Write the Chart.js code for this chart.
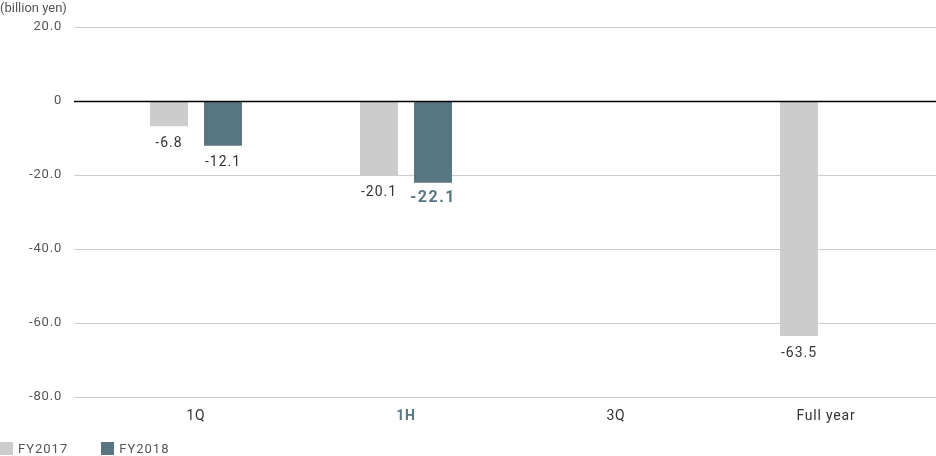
<!DOCTYPE html>
<html>
<head>
<meta charset="utf-8">
<script src="https://cdn.jsdelivr.net/npm/chart.js@4/dist/chart.umd.min.js"></script>
<style>
  html, body { margin: 0; padding: 0; background: #fff; }
  #wrap { position: relative; width: 936px; height: 456px; overflow: hidden; }
  #unit { position: absolute; left: 0; top: 0; font: 13px Roboto, sans-serif; color: #555; }
  #legend { position: absolute; left: 0; top: 441px; font: 13px Roboto, sans-serif; color: #555; letter-spacing: 1px; display: flex; }
  .item { display: flex; align-items: center; margin-right: 33px; }
  .box { width: 13px; height: 13px; margin-right: 5px; }
</style>
</head>
<body>
<div id="wrap">
  <canvas id="c" width="936" height="456"></canvas>
  <div id="unit">(billion yen)</div>
  <div id="legend"></div>
</div>
<script>
const categories = ["1Q", "1H", "3Q", "Full year"];
const seriesNames = ["FY2017", "FY2018"];
const fy2017 = [-6.8, -20.1, null, -63.5];
const fy2018 = [-12.1, -22.1, null, null];
const yTicks = [20, 0, -20, -40, -60, -80];
const colors = ["#cccccc", "#587682"];
const highlight = { dataset: 1, index: 1 };

// HTML legend
const leg = document.getElementById('legend');
seriesNames.forEach((n, i) => {
  const d = document.createElement('div'); d.className = 'item';
  d.innerHTML = '<span class="box" style="background:' + colors[i] + '"></span><span>' + n + '</span>';
  leg.appendChild(d);
});

const spacing = {
  id: 'spacing',
  beforeDraw(chart) { chart.ctx.letterSpacing = '0.8px'; }
};

const gridExt = {
  id: 'gridExt',
  beforeDatasetsDraw(chart) {
    const { ctx, chartArea, scales } = chart;
    const y = scales.y;
    ctx.save();
    y.ticks.forEach(t => {
      const py = Math.round(y.getPixelForValue(t.value)) + 0.5;
      ctx.strokeStyle = t.value === 0 ? '#000' : '#cccccc';
      ctx.lineWidth = 1;
      ctx.beginPath();
      ctx.moveTo(chartArea.right, py);
      ctx.lineTo(chart.width, py);
      ctx.stroke();
    });
    ctx.restore();
  },
  afterDatasetsDraw(chart) {
    const { ctx, scales } = chart;
    const y0 = Math.round(scales.y.getPixelForValue(0)) + 0.5;
    ctx.save();
    ctx.strokeStyle = '#000';
    ctx.lineWidth = 1.3;
    ctx.beginPath();
    ctx.moveTo(chart.chartArea.left - 17, y0);
    ctx.lineTo(chart.width, y0);
    ctx.stroke();
    ctx.restore();
  }
};

const valueLabels = {
  id: 'valueLabels',
  afterDatasetsDraw(chart) {
    const { ctx } = chart;
    ctx.save();
    ctx.textAlign = 'center';
    ctx.textBaseline = 'middle';
    chart.data.datasets.forEach((ds, di) => {
      const meta = chart.getDatasetMeta(di);
      meta.data.forEach((bar, i) => {
        const v = ds.data[i];
        if (v === null || v === undefined) return;
        const hl = di === highlight.dataset && i === highlight.index;
        ctx.font = hl ? 'bold 16px Roboto, sans-serif' : '14px Roboto, sans-serif';
        ctx.letterSpacing = hl ? '1.5px' : '1px';
        ctx.fillStyle = hl ? '#587682' : '#333';
        ctx.fillText(v.toFixed(1), bar.x, bar.y + (hl ? 15 : 17));
      });
    });
    ctx.restore();
  }
};

new Chart(document.getElementById('c'), {
  type: 'bar',
  data: {
    labels: categories,
    datasets: [
      { label: seriesNames[0], data: fy2017, backgroundColor: colors[0] },
      { label: seriesNames[1], data: fy2018, backgroundColor: colors[1] }
    ]
  },
  options: {
    responsive: false,
    animation: false,
    events: [],
    layout: { padding: { left: 0, right: 5, top: 27, bottom: 28 } },
    datasets: { bar: { categoryPercentage: 0.514, barPercentage: 0.704 } },
    plugins: { legend: { display: false }, tooltip: { enabled: false } },
    scales: {
      x: {
        grid: { display: false },
        border: { display: false },
        ticks: {
          padding: 3,
          color: ctx => ctx.index === 1 ? '#587682' : '#333',
          font: ctx => ctx.index === 1 ? { family: 'Roboto, sans-serif', size: 14, weight: 'bold' } : { family: 'Roboto, sans-serif', size: 14 }
        }
      },
      y: {
        min: -80, max: 20,
        afterBuildTicks: s => { s.ticks = yTicks.map(v => ({ value: v })); },
        afterFit: s => { s.width = 91; },
        border: { display: false },
        grid: {
          color: ctx => ctx.tick && ctx.tick.value === 0 ? '#000' : '#cccccc',
          tickLength: 17,
          lineWidth: 1
        },
        ticks: {
          padding: 12,
          color: '#555',
          font: { family: 'Roboto, sans-serif', size: 13 },
          callback: v => v === 0 ? '0' : v.toFixed(1)
        }
      }
    }
  },
  plugins: [spacing, gridExt, valueLabels]
});
</script>
</body>
</html>
